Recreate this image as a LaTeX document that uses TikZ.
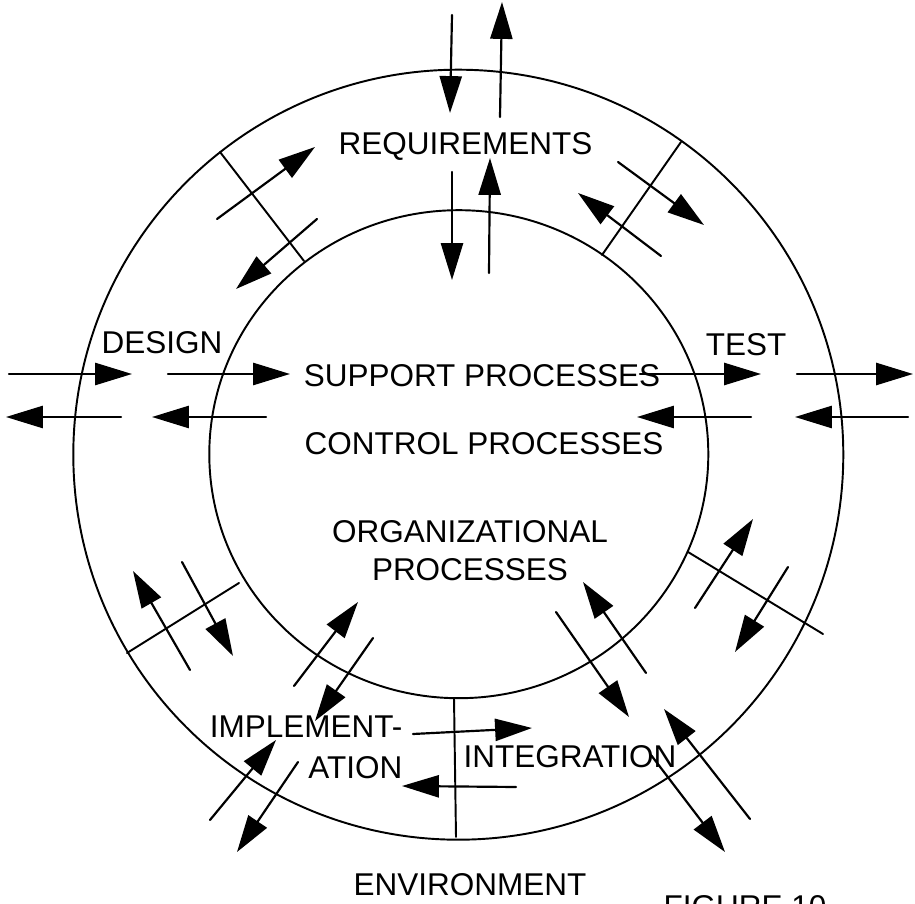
\documentclass[tikz,border=0pt]{standalone}
\usepackage{fontspec}
\setmainfont{Liberation Sans}
\usepackage{tkz-euclide}
\usetikzlibrary{arrows.meta}

\begin{document}
\begin{tikzpicture}[
        ring/.style={line width=0.55pt,color=black},
        flow/.style={line width=0.62pt,color=black,
          -{Triangle[length=10.5pt,width=6.3pt]}},
        lbl/.style={inner sep=0pt,font=\fontsize{8.96}{10.8}\selectfont}]
        % 初始化
        \tkzInit[xmin=0,xmax=9.15,ymin=0,ymax=9.03]
        \useasboundingbox (0,0) rectangle (9.15,9.03);
        \tkzClip
        % 定义圆心
        \tkzDefPoints{4.583/4.483/O, 4.588/4.488/I}
        % 绘制内外两个圆
        \draw[ring] (O) circle (3.85);
        \draw[ring] (I) ellipse (2.495 and 2.44);
        % 定义分隔线端点
        \tkzDefPoints{3.04/6.42/b1, 2.20/7.51/B1, 6.02/6.48/b2, 6.81/7.61/B2,
          2.39/3.20/b3, 1.27/2.50/B3, 6.88/3.51/b4, 8.23/2.69/B4,
          4.54/2.05/b5, 4.56/0.66/B5}
        % 绘制分隔线
        \tkzDrawSegments[ring](b1,B1 b2,B2 b3,B3 b4,B4 b5,B5)
        % 文字
        \node[lbl,anchor=base] (req) at (4.655,7.48) {REQUIREMENTS};
        \node[lbl,anchor=base] (des) at (1.62,5.50) {DESIGN};
        \node[lbl,anchor=base] (tst) at (7.46,5.48) {TEST};
        \node[lbl,anchor=base] (sup) at (4.82,5.16) {SUPPORT PROCESSES};
        \node[lbl,anchor=base] (ctl) at (4.84,4.48) {CONTROL PROCESSES};
        \node[lbl,anchor=base,align=center] (org) at (4.70,3.23)
          {ORGANIZATIONAL\\PROCESSES};
        \node[lbl,anchor=base east,align=right] (imp) at (4.03,1.25)
          {IMPLEMENT-\\[0.6pt]ATION};
        \node[lbl,anchor=base] (itg) at (5.70,1.36) {INTEGRATION};
        \node[lbl,anchor=base] (env) at (4.70,0.08) {ENVIRONMENT};
        \node[lbl,anchor=base west] (fig) at (6.63,-0.14) {FIGURE 10};
        % 需求 上方箭头
        \tkzDefPoints{4.52/8.88/r1, 4.50/7.90/R1, 5.00/7.86/r2, 5.02/9.01/R2,
          4.52/7.31/r3, 4.52/6.23/R3, 4.89/6.30/r4, 4.90/7.45/R4}
        \tkzDrawSegments[flow](r1,R1 r2,R2 r3,R3 r4,R4)
        % 设计--需求
        \tkzDefPoints{2.17/6.84/u1, 3.15/7.56/U1, 3.17/6.84/u2, 2.36/6.14/U2}
        % 需求--测试
        \tkzDefPoints{6.18/7.41/v1, 7.04/6.78/V1, 6.61/6.47/v2, 5.78/7.10/V2}
        \tkzDrawSegments[flow](u1,U1 u2,U2 v1,V1 v2,V2)
        % 设计 左侧
        \tkzDefPoints{0.09/5.29/d1, 1.32/5.29/D1, 1.68/5.29/d2, 2.90/5.29/D2,
          1.21/4.86/d3, 0.06/4.86/D3, 2.66/4.86/d4, 1.52/4.86/D4}
        % 测试 右侧
        \tkzDefPoints{6.40/5.29/t1, 7.61/5.29/T1, 7.97/5.29/t2, 9.13/5.29/T2,
          7.51/4.86/t3, 6.37/4.86/T3, 9.08/4.86/t4, 7.95/4.86/T4}
        \tkzDrawSegments[flow](d1,D1 d2,D2 d3,D3 d4,D4 t1,T1 t2,T2 t3,T3 t4,T4)
        % 设计--实现
        \tkzDefPoints{1.90/2.33/w1, 1.33/3.32/W1, 1.82/3.41/w2, 2.33/2.47/W2}
        \tkzDrawSegments[flow](w1,W1 w2,W2)
        % 实现
        \tkzDefPoints{2.94/2.17/m1, 3.58/3.01/M1, 3.73/2.65/m2, 3.15/1.82/M2,
          2.10/0.83/m3, 2.76/1.63/M3, 2.98/1.41/m4, 2.37/0.51/M4}
        \tkzDrawSegments[flow](m1,M1 m2,M2 m3,M3 m4,M4)
        % 实现--集成
        \tkzDefPoints{4.13/1.69/g1, 5.32/1.75/G1, 5.16/1.16/g2, 4.02/1.17/G2}
        \tkzDrawSegments[flow](g1,G1 g2,G2)
        % 集成--测试
        \tkzDefPoints{6.95/2.95/x1, 7.53/3.84/X1, 7.88/3.36/x2, 7.35/2.51/X2}
        % 集成
        \tkzDefPoints{6.46/2.30/n1, 5.83/3.21/N1, 5.56/2.91/n2, 6.29/1.86/N2,
          7.50/0.84/n3, 6.64/1.94/N3, 6.51/1.48/n4, 7.25/0.51/N4}
        \tkzDrawSegments[flow](x1,X1 x2,X2 n1,N1 n2,N2 n3,N3 n4,N4)
\end{tikzpicture}
\end{document}
